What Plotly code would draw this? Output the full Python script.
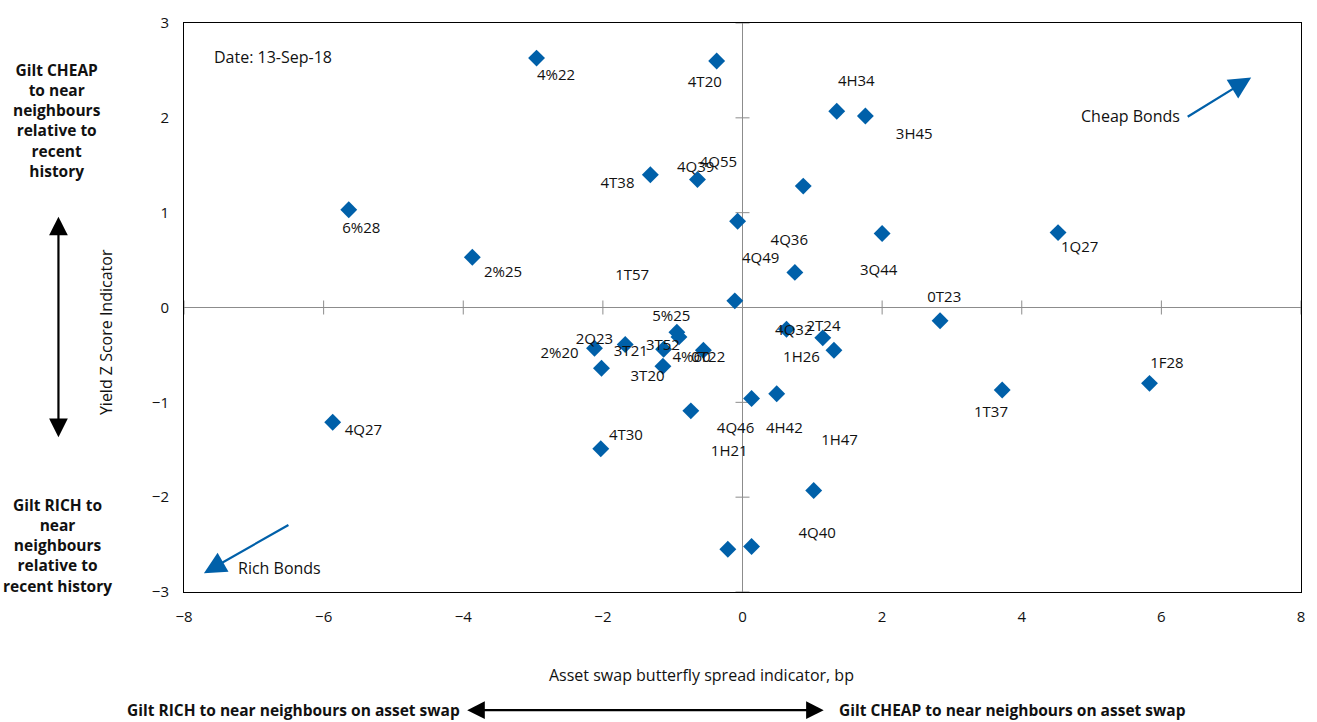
import plotly.graph_objects as go

# ---- data ----
bond_x = [-2.95, -0.37, 1.35, 1.76, -1.32, -0.645, 0.87, -0.07, -5.64, -3.87,
          2.00, 4.52, 0.75, -0.11, 2.83, 3.72, 5.83, -0.94, -0.91, -2.12,
          -1.68, -1.13, -0.56, -2.02, -1.14, -0.74, -2.03, 0.13, 0.49, 0.63,
          1.15, 1.31, -5.87, 1.02, -0.21, 0.13]
bond_y = [2.63, 2.60, 2.07, 2.02, 1.40, 1.35, 1.28, 0.91, 1.03, 0.53,
          0.78, 0.79, 0.37, 0.07, -0.14, -0.87, -0.80, -0.26, -0.31, -0.43,
          -0.39, -0.44, -0.45, -0.64, -0.62, -1.09, -1.49, -0.96, -0.91, -0.23,
          -0.32, -0.45, -1.21, -1.93, -2.55, -2.52]

label_names = ["4%22", "4T20", "4H34", "3H45", "4T38", "4Q39", "4Q55", "6%28", "2%25",
               "4Q36", "4Q49", "1T57", "3Q44", "1Q27", "0T23", "1T37", "1F28", "5%25",
               "2Q23", "2%20", "3T21", "3T52", "4%60", "0T22", "3T20", "4T30", "4Q46",
               "4H42", "1H21", "1H26", "4Q32", "2T24", "4Q27", "1H47", "4Q40", "0H22"]
label_x = [-2.67, -0.54, 1.63, 2.46, -1.79, -0.67, -0.345, -5.46, -3.43,
           0.67, 0.26, -1.58, 1.95, 4.83, 2.89, 3.56, 6.08, -1.02,
           -2.12, -2.62, -1.60, -1.14, -0.73, -0.49, -1.36, -1.67, -0.10,
           0.60, -0.19, 0.845, 0.735, 1.16, -5.43, 1.39, 1.07, 0.25]
label_y = [2.44, 2.37, 2.38, 1.82, 1.30, 1.47, 1.52, 0.83, 0.36,
           0.695, 0.51, 0.33, 0.38, 0.625, 0.10, -1.11, -0.60, -0.108,
           -0.35, -0.49, -0.47, -0.41, -0.53, -0.53, -0.74, -1.36, -1.28,
           -1.28, -1.53, -0.53, -0.25, -0.21, -1.31, -1.41, -2.39, -3.40]

x_ticks = [-8, -6, -4, -2, 0, 2, 4, 6, 8]
y_ticks = [-3, -2, -1, 0, 1, 2, 3]

date_text = "Date: 13-Sep-18"

# ---- layout geometry ----
W, H = 1317, 722
ML, MR, MT, MB = 184, 12, 19, 130
PW, PH = W - ML - MR, H - MT - MB


def px(x):
    return (x - ML) / PW


def py(y):
    return (H - MB - y) / PH


FONT = "Open Sans"
BLUE = "#0060A9"
GREY = "#8c8c8c"
TXT = "#111111"
LBL = 15      # point labels / tick labels
WRD = 16      # word texts
BLD = 15.5    # bold side texts

fig = go.Figure()

# cross tick marks on the zero axes
fig.add_trace(go.Scatter(
    x=[t for t in x_ticks if t != 0], y=[0] * (len(x_ticks) - 1), mode="markers",
    marker=dict(symbol="line-ns", size=10, line=dict(color=GREY, width=1)),
    hoverinfo="skip", showlegend=False))
fig.add_trace(go.Scatter(
    x=[0] * (len(y_ticks) - 1), y=[t for t in y_ticks if t != 0], mode="markers",
    marker=dict(symbol="line-ew", size=10, line=dict(color=GREY, width=1)),
    hoverinfo="skip", showlegend=False))

fig.add_trace(go.Scatter(
    x=bond_x, y=bond_y, mode="markers",
    marker=dict(symbol="diamond", size=13, color=BLUE, line=dict(width=0)),
    showlegend=False))

fig.add_trace(go.Scatter(
    x=label_x, y=label_y, mode="text", text=label_names,
    textfont=dict(family=FONT, size=LBL, color=TXT),
    textposition="middle center", cliponaxis=False,
    hoverinfo="skip", showlegend=False))

axis_common = dict(
    showgrid=False, zeroline=True, zerolinecolor=GREY, zerolinewidth=1,
    showline=True, linecolor="#000000", linewidth=1, mirror=True,
    ticks="", tickfont=dict(family=FONT, size=LBL, color=TXT),
)
fig.update_xaxes(range=[-8, 8], tickvals=x_ticks, ticklabelstandoff=11, **axis_common)
fig.update_yaxes(range=[-3, 3], tickvals=y_ticks, ticklabelstandoff=11, **axis_common)

ann = []
ann.append(dict(x=px(212), y=py(53), xref="paper", yref="paper", text=date_text,
                showarrow=False, xanchor="left", yanchor="middle",
                font=dict(family=FONT, size=WRD, color=TXT)))
ann.append(dict(x=px(57), y=py(117), xref="paper", yref="paper",
                text="<b>Gilt CHEAP<br>to near<br>neighbours<br>relative to<br>recent<br>history</b>",
                showarrow=False, xanchor="center", yanchor="middle", align="center",
                font=dict(family=FONT, size=BLD, color=TXT)))
ann.append(dict(x=px(57), y=py(545), xref="paper", yref="paper",
                text="<b>Gilt RICH to<br>near<br>neighbours<br>relative to<br>recent history</b>",
                showarrow=False, xanchor="center", yanchor="middle", align="center",
                font=dict(family=FONT, size=BLD, color=TXT)))
# vertical double arrow
ann.append(dict(x=px(58), y=py(214), xref="paper", yref="paper", text="",
                showarrow=True, ax=0, ay=222, arrowside="end+start",
                arrowhead=2, arrowsize=1.7, arrowwidth=2.2, arrowcolor="#000000"))
ann.append(dict(x=px(106), y=py(330), xref="paper", yref="paper",
                text="Yield Z Score Indicator", textangle=-90, showarrow=False,
                xanchor="center", yanchor="middle",
                font=dict(family=FONT, size=WRD, color=TXT)))
ann.append(dict(x=px(703), y=py(676), xref="paper", yref="paper",
                text="Asset swap butterfly spread indicator, bp", showarrow=False,
                xanchor="center", yanchor="middle",
                font=dict(family=FONT, size=WRD, color=TXT)))
# bottom double arrow
ann.append(dict(x=px(826), y=py(711), xref="paper", yref="paper", text="",
                showarrow=True, ax=-358, ay=0, arrowside="end+start",
                arrowhead=2, arrowsize=1.6, arrowwidth=2.2, arrowcolor="#000000"))
ann.append(dict(x=px(463), y=py(711), xref="paper", yref="paper",
                text="<b>Gilt RICH to near neighbours on asset swap</b>", showarrow=False,
                xanchor="right", yanchor="middle",
                font=dict(family=FONT, size=BLD, color=TXT)))
ann.append(dict(x=px(839), y=py(711), xref="paper", yref="paper",
                text="<b>Gilt CHEAP to near neighbours on asset swap</b>", showarrow=False,
                xanchor="left", yanchor="middle",
                font=dict(family=FONT, size=BLD, color=TXT)))
# cheap / rich bonds arrows
ann.append(dict(x=px(1186), y=py(113), xref="paper", yref="paper",
                text="Cheap Bonds", showarrow=False, xanchor="right", yanchor="middle",
                font=dict(family=FONT, size=WRD, color=TXT)))
ann.append(dict(x=px(1255), y=py(74), xref="paper", yref="paper", text="",
                showarrow=True, ax=-65, ay=40, arrowhead=2, arrowsize=2.0,
                arrowwidth=2.2, arrowcolor=BLUE))
ann.append(dict(x=px(236), y=py(568), xref="paper", yref="paper",
                text="Rich Bonds", showarrow=False, xanchor="left", yanchor="middle",
                font=dict(family=FONT, size=WRD, color=TXT)))
ann.append(dict(x=px(204), y=py(573), xref="paper", yref="paper", text="",
                showarrow=True, ax=86, ay=-49, arrowhead=2, arrowsize=2.0,
                arrowwidth=2.2, arrowcolor=BLUE))

fig.update_layout(
    width=W, height=H,
    margin=dict(l=ML, r=MR, t=MT, b=MB),
    paper_bgcolor="#ffffff", plot_bgcolor="#ffffff",
    font=dict(family=FONT, size=LBL, color=TXT),
    annotations=ann, showlegend=False,
)

fig.write_html("out.html", config={"displayModeBar": False},
               post_script="document.body.style.margin='0';document.body.style.padding='0';")
